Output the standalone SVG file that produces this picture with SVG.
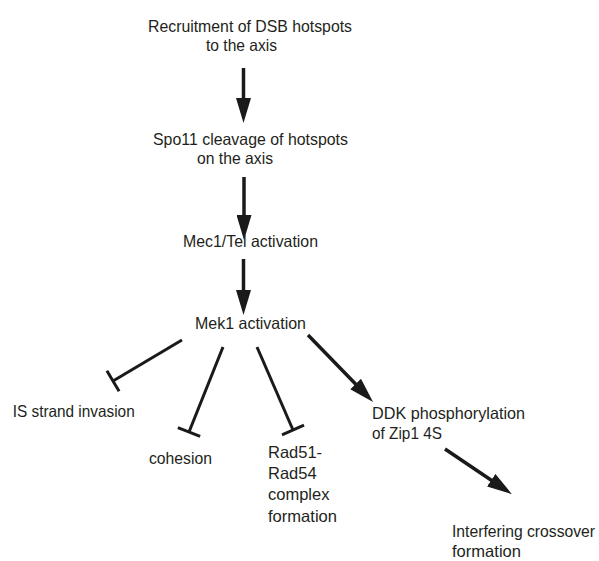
<svg xmlns="http://www.w3.org/2000/svg" width="599" height="561" viewBox="0 0 599 561">
<style>
  text { font-family: "Liberation Sans", Arial, sans-serif; font-size: 16.5px; fill: #231f20; }
  text.tight { font-size: 15.7px; }
  .act { stroke: #1a1a1a; stroke-width: 3.5; fill: none; marker-end: url(#arrow); }
  .inh { stroke: #1a1a1a; stroke-width: 3; fill: none; marker-end: url(#tbar); }
</style>
<defs>
  <marker id="arrow" viewBox="0 -7.5 25 15" refX="10" refY="0" markerWidth="25" markerHeight="15" markerUnits="userSpaceOnUse" orient="auto">
    <path d="M0,-7.5 L25,0 L0,7.5 Z" fill="#1a1a1a"/>
  </marker>
  <marker id="tbar" viewBox="-2 -13 4 26" refX="0" refY="0" markerWidth="4" markerHeight="26" markerUnits="userSpaceOnUse" orient="auto">
    <path d="M0,-12 L0,12" stroke="#1a1a1a" stroke-width="3"/>
  </marker>
</defs>
<rect width="599" height="561" fill="#ffffff"/>
<g id="connectors">
  <line class="act" x1="243.5" y1="68" x2="243.5" y2="108"/>
  <line class="act" x1="244" y1="177" x2="244" y2="225"/>
  <line class="act" x1="243.5" y1="259" x2="243.5" y2="300"/>
  <line class="act" x1="308" y1="335" x2="362.6" y2="391.2"/>
  <line class="act" x1="445" y1="449" x2="499.5" y2="485.8"/>
  <line class="inh" x1="182" y1="340" x2="113" y2="381"/>
  <line class="inh" x1="223" y1="347" x2="189" y2="432"/>
  <line class="inh" x1="257" y1="347" x2="293" y2="430"/>
</g>
<g id="n-recruitment">
  <text x="148" y="31.5" textLength="204" lengthAdjust="spacingAndGlyphs">Recruitment of DSB hotspots</text>
  <text x="206" y="50.5" textLength="71" lengthAdjust="spacingAndGlyphs">to the axis</text>
</g>
<g id="n-spo11">
  <text x="153" y="144.5" textLength="195" lengthAdjust="spacingAndGlyphs">Spo11 cleavage of hotspots</text>
  <text x="197" y="163.5" textLength="76" lengthAdjust="spacingAndGlyphs">on the axis</text>
</g>
<g id="n-mec1">
  <text x="183" y="246.5" textLength="135" lengthAdjust="spacingAndGlyphs">Mec1/Tel activation</text>
</g>
<g id="n-mek1">
  <text x="195" y="328.5" textLength="111" lengthAdjust="spacingAndGlyphs">Mek1 activation</text>
</g>
<g id="n-is">
  <text x="12.7" y="416.5" textLength="122" lengthAdjust="spacingAndGlyphs">IS strand invasion</text>
</g>
<g id="n-cohesion">
  <text x="149" y="463.5" textLength="63" lengthAdjust="spacingAndGlyphs">cohesion</text>
</g>
<g id="n-rad51">
  <text x="268" y="457.5">Rad51-</text>
  <text x="268" y="478.5">Rad54</text>
  <text x="268" y="500">complex</text>
  <text x="268" y="521.5" textLength="69" lengthAdjust="spacingAndGlyphs">formation</text>
</g>
<g id="n-ddk">
  <text x="372" y="418.5" textLength="153" lengthAdjust="spacingAndGlyphs">DDK phosphorylation</text>
  <text x="372" y="438.5" textLength="70" lengthAdjust="spacingAndGlyphs">of Zip1 4S</text>
</g>
<g id="n-interfering">
  <text class="tight" x="452" y="537" textLength="143" lengthAdjust="spacingAndGlyphs">Interfering crossover</text>
  <text x="452" y="557" textLength="69" lengthAdjust="spacingAndGlyphs">formation</text>
</g>
</svg>
